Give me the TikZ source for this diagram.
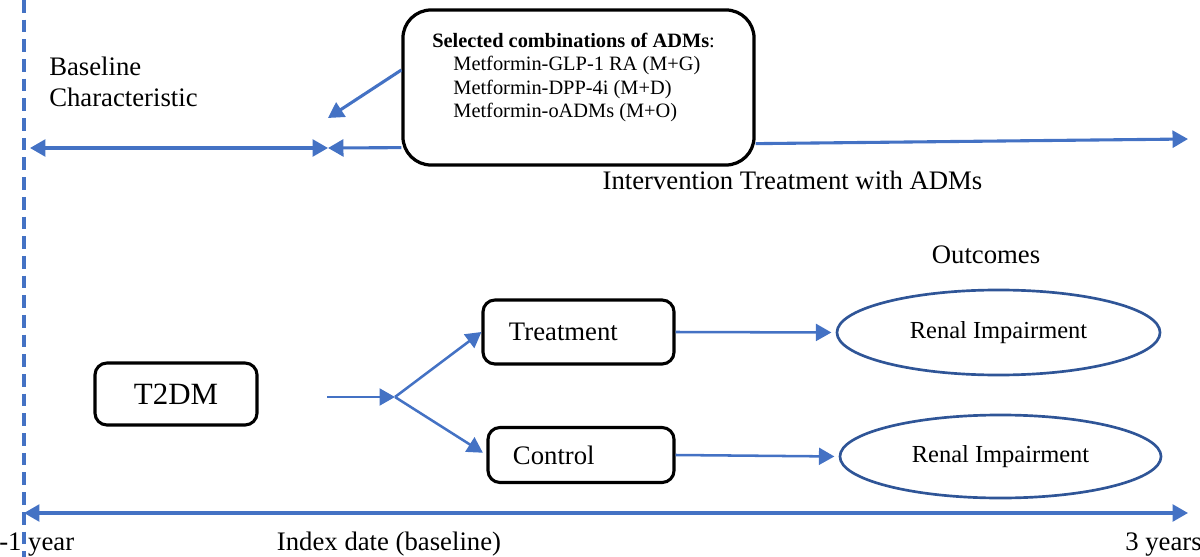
\documentclass[tikz,border=0pt]{standalone}
\usepackage{fontspec}
\setmainfont{Liberation Serif}
\usetikzlibrary{shapes.geometric, arrows.meta, calc}
\definecolor{myblue}{RGB}{68,114,196}
\definecolor{mynavy}{RGB}{47,85,151}
\tikzset{
  tline/.style={line width=2.2pt, color=myblue},
  tarrow/.style={tline, -{Triangle[length=11pt, width=12pt]}},
  tboth/.style={tline, {Triangle[length=11pt, width=12pt]}-{Triangle[length=11pt, width=12pt]}},
  arrow/.style={-{Triangle[length=11pt, width=12pt]}, line width=1.8pt, color=myblue},
  block/.style={rectangle, draw=black, line width=2.2pt, rounded corners=8.5pt,
    font=\fontsize{19}{22}\selectfont},
  outcome/.style={ellipse, draw=mynavy, line width=1.9pt, inner sep=0pt,
    font=\fontsize{17.4}{20}\selectfont},
  txt/.style={font=\fontsize{19}{22}\selectfont, inner sep=0pt}
}

\begin{document}
\begin{tikzpicture}[x=0.025cm, y=-0.025cm]
  \useasboundingbox (0,0) rectangle (1200,557);
  \coordinate (top) at (24,0);
  \coordinate (bottom) at (24,557);
  \draw[tline, line width=2.4pt, dash pattern=on 9pt off 5pt] (top) -- (bottom);

  % combinations of ADMs
  \node[block, line width=2.3pt, rounded corners=20pt, minimum width=8.775cm, minimum height=3.875cm] (combo) at (578.5,87.5) {};
  \node[txt, font=\fontsize{14.5}{16.5}\selectfont, align=left, anchor=north west] (combolist) at (432,33) {\textbf{Selected combinations of ADMs}:\\
    \hspace*{15pt}Metformin-GLP-1 RA (M+G)\\
    \hspace*{15pt}Metformin-DPP-4i (M+D)\\
    \hspace*{15pt}Metformin-oADMs (M+O)};

  \node[txt, align=left, anchor=north west] (baseline) at (49,57) {Baseline\\Characteristic};
  \coordinate (blL) at (30,148);
  \coordinate (idx) at (328,148);
  \coordinate (idxTop) at (328,118);
  \coordinate (intEnd) at (1188,139);
  \draw[tboth] (blL) -- (idx);
  \draw[tarrow] ($(combo.south west)+(0,-19)$) -- (idx);
  \draw[tarrow] ($(combo.west)+(0,-17.5)$) -- (idxTop);
  \draw[tarrow] ($(combo.south east)+(0,-23)$) -- (intEnd);

  \node[txt, anchor=base] (interv) at (792.5,190) {Intervention Treatment with ADMs};
  \node[txt, anchor=base] (outcomes) at (986,263) {Outcomes};

  % groups
  \node[block, minimum width=4.05cm, minimum height=1.55cm, font=\fontsize{22}{24}\selectfont] (t2dm) at (176,394) {T2DM};
  \node[block, minimum height=1.6cm, text width=3.475cm, inner xsep=0.65cm, align=left] (treat) at (578.5,332) {Treatment};
  \node[block, minimum height=1.375cm, text width=3.4cm, inner xsep=0.625cm, align=left] (ctrl) at (581,455) {Control};

  \node[outcome, minimum width=8.075cm, minimum height=2.125cm] (renalT) at (998.5,332.5) {Renal Impairment};
  \node[outcome, minimum width=8.025cm, minimum height=2.075cm] (renalC) at (1000.5,456.5) {Renal Impairment};

  \coordinate (t2dmOut) at (327,397);
  \coordinate (split) at (395,397);
  \draw[arrow] (t2dmOut) -- (split);
  \draw[arrow] (split) -- (treat.west);
  \draw[arrow, shorten >=3pt] (split) -- (ctrl.west);
  \draw[arrow, shorten >=3pt] (treat.east) -- (renalT.west);
  \draw[arrow, shorten >=3pt] (ctrl.east) -- (renalC.west);

  % time axis
  \coordinate (axL) at (24,513);
  \coordinate (axR) at (1188,513);
  \draw[tboth] (axL) -- (axR);
  \node[txt, anchor=base west] (minus1) at (-1,550) {-1 year};
  \node[txt, anchor=base] (index) at (389,550) {Index date (baseline)};
  \node[txt, anchor=base west] (threeyr) at (1125,550) {3 years};
\end{tikzpicture}
\end{document}
